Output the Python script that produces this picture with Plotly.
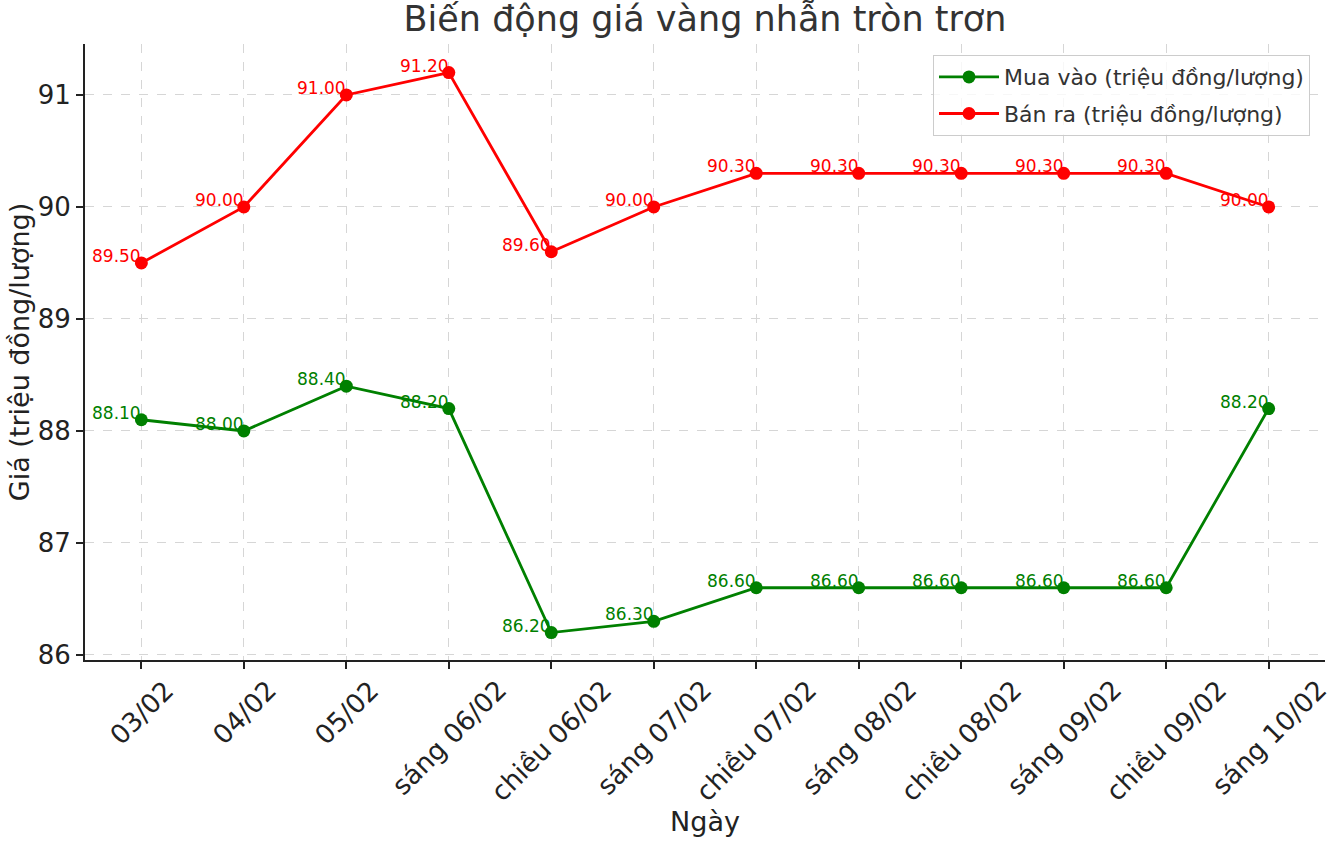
import plotly.graph_objects as go

categories = ["03/02", "04/02", "05/02", "sáng 06/02", "chiều 06/02", "sáng 07/02",
              "chiều 07/02", "sáng 08/02", "chiều 08/02", "sáng 09/02", "chiều 09/02", "sáng 10/02"]
mua_vao = [88.1, 88.0, 88.4, 88.2, 86.2, 86.3, 86.6, 86.6, 86.6, 86.6, 86.6, 88.2]
ban_ra = [89.5, 90.0, 91.0, 91.2, 89.6, 90.0, 90.3, 90.3, 90.3, 90.3, 90.3, 90.0]

FONT = "DejaVu Sans"
idx = list(range(len(categories)))

PLOT_H = 848 - 44 - 188

fig = go.Figure()
fig.add_trace(go.Scatter(x=idx, y=mua_vao, mode="lines+markers", name="Mua vào (triệu đồng/lượng)",
                         legendgroup="mua",
                         line=dict(color="green", width=2.8), marker=dict(size=13, color="green")))
fig.add_trace(go.Scatter(x=idx, y=ban_ra, mode="lines+markers", name="Bán ra (triệu đồng/lượng)",
                         legendgroup="ban",
                         line=dict(color="red", width=2.8), marker=dict(size=13, color="red")))

annotations = []
for series, color in ((mua_vao, "green"), (ban_ra, "red")):
    for i, v in zip(idx, series):
        annotations.append(dict(x=i, y=v, text=f"{v:.2f}", showarrow=False,
                                xanchor="right", yanchor="bottom", yshift=-5, xshift=2,
                                font=dict(family=FONT, size=17, color=color)))

# x tick labels, rotated 45° and centred on their ticks
for i, lab in zip(idx, categories):
    annotations.append(dict(x=i, xref="x", y=-13 / PLOT_H, yref="paper", text=lab,
                            textangle=-45, showarrow=False, xanchor="center", yanchor="top",
                            borderpad=0, font=dict(family=FONT, size=26.5, color="#222222")))

fig.update_layout(
    width=1327, height=848,
    paper_bgcolor="white", plot_bgcolor="white",
    margin=dict(l=85, r=2, t=44, b=188),
    title=dict(text="Biến động giá vàng nhẫn tròn trơn", x=705/1327, xanchor="center",
               y=1 - 19/848, yanchor="middle", font=dict(family=FONT, size=35, color="#333333")),
    font=dict(family=FONT, color="#222222"),
    xaxis=dict(range=[-0.55, 11.55], tickmode="array", tickvals=idx, ticktext=categories,
               showticklabels=False,
               showgrid=True, gridcolor="#d6d6d6", griddash="dash", gridwidth=1,
               showline=True, linecolor="#222222", linewidth=2,
               ticks="outside", ticklen=7, tickwidth=1.8, tickcolor="#222222",
               zeroline=False, automargin=False,
               title=dict(text="Ngày", font=dict(size=27, color="#222222"), standoff=144)),
    yaxis=dict(range=[85.955, 91.455], tickvals=[86, 87, 88, 89, 90, 91],
               tickfont=dict(size=26, color="#222222"),
               showgrid=True, gridcolor="#d6d6d6", griddash="dash", gridwidth=1,
               showline=True, linecolor="#222222", linewidth=2,
               ticks="outside", ticklen=7, tickwidth=1.8, tickcolor="#222222",
               zeroline=False, automargin=False,
               title=dict(text="Giá (triệu đồng/lượng)", font=dict(size=27, color="#222222"), standoff=0)),
    legend=dict(x=(1310 - 85) / 1240, xanchor="right", y=0.982, yanchor="top",
                bgcolor="rgba(255,255,255,0.8)", bordercolor="#cccccc", borderwidth=1,
                font=dict(family=FONT, size=22, color="#333333"), itemwidth=60,
                tracegroupgap=5),
    annotations=annotations,
    showlegend=True,
)

fig.write_html("out.html")
